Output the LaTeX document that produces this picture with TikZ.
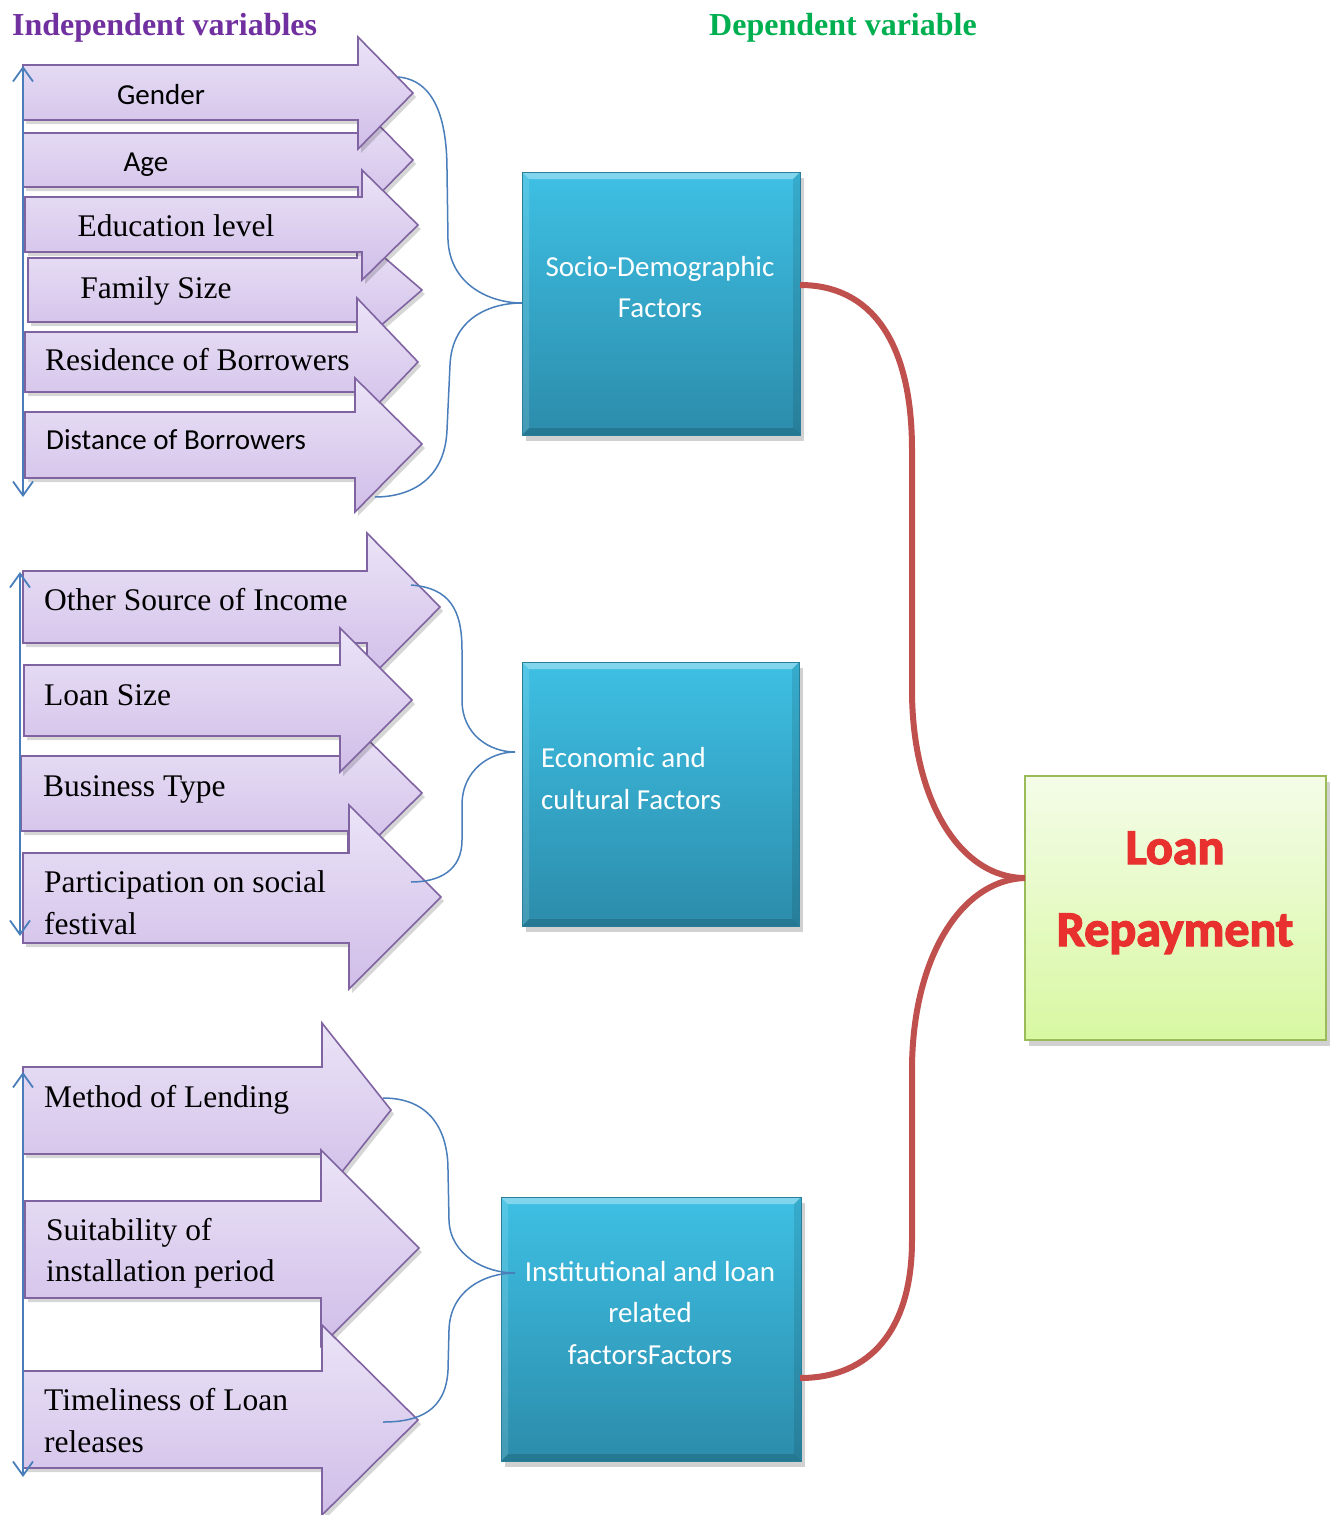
\documentclass[tikz,border=0pt]{standalone}
\usepackage{fontspec}
\setmainfont{Liberation Serif}
\newfontfamily\calib{Carlito}
\usetikzlibrary{arrows.meta,fit}
\definecolor{arrtop}{HTML}{EBE4F7}
\definecolor{arrbot}{HTML}{D0BDE8}
\definecolor{arrline}{HTML}{8064A2}
\definecolor{blueline}{HTML}{4A7EBB}
\definecolor{boxtop}{HTML}{3EC0E4}
\definecolor{boxbot}{HTML}{2C8CAB}
\definecolor{boxline}{HTML}{2A7E9A}
\definecolor{redline}{HTML}{C0504D}
\definecolor{grtop}{HTML}{F4FCE8}
\definecolor{grbot}{HTML}{D8F8A2}
\definecolor{grline}{HTML}{9BBB59}
\definecolor{ttlpurple}{HTML}{7030A0}
\definecolor{ttlgreen}{HTML}{00B050}
\definecolor{loanred}{HTML}{E8302F}
\tikzset{
  fatarr/.style={draw=arrline, line width=1.6pt, top color=arrtop, bottom color=arrbot, line join=miter},
  shad/.style={fill=black, opacity=0.16},
  sertext/.style={font=\fontsize{31.5}{38}\selectfont, anchor=base west, inner sep=0pt},
  santext/.style={font=\calib\fontsize{29}{35}\selectfont, anchor=base, inner sep=0pt},
  boxtext/.style={font=\calib\fontsize{29}{35}\selectfont, text=white, inner sep=0pt},
  vline/.style={draw=blueline, line width=1.8pt, {Straight Barb[length=14pt,width=20pt]}-{Straight Barb[length=14pt,width=20pt]}},
  bracecurve/.style={draw=blueline, line width=1.5pt},
  redcurve/.style={draw=redline, line width=6pt},
  titletext/.style={font=\bfseries\fontsize{32}{38}\selectfont, anchor=base west, inner sep=0pt},
  loanfont/.style={font=\calib\bfseries\fontsize{50}{56}\selectfont, anchor=base, inner sep=0pt, text=loanred},
}
% left, top, bottom, neck, headtop, tipx, tipy, headbottom
\newcommand\fatarrow[8]{%
  \begin{scope}[shift={(3,4)}]
    \fill[shad] (#1,#2) -- (#4,#2) -- (#4,#5) -- (#6,#7) -- (#4,#8) -- (#4,#3) -- (#1,#3) -- cycle;
  \end{scope}
  \path[fatarr] (#1,#2) -- (#4,#2) -- (#4,#5) -- (#6,#7) -- (#4,#8) -- (#4,#3) -- (#1,#3) -- cycle;}
% name, x1, y1, x2, y2
\newcommand\bevelbox[5]{%
  \fill[black, opacity=0.18] (#2+4,#3+6) rectangle (#4+4,#5+6);
  \node[fit={(#2,#3) (#4,#5)}, inner sep=0pt, top color=boxtop, bottom color=boxbot, draw=boxline, line width=1pt] (#1) {};
  \fill[white, opacity=0.35] (#2,#3) -- (#4,#3) -- (#4-7,#3+7) -- (#2+7,#3+7) -- cycle;
  \fill[white, opacity=0.12] (#2,#3) -- (#2+7,#3+7) -- (#2+7,#5-7) -- (#2,#5) -- cycle;
  \fill[black, opacity=0.10] (#4,#3) -- (#4-7,#3+7) -- (#4-7,#5-7) -- (#4,#5) -- cycle;
  \fill[black, opacity=0.14] (#2,#5) -- (#4,#5) -- (#4-7,#5-7) -- (#2+7,#5-7) -- cycle;
  \draw[boxline, line width=1pt] (#2,#3) rectangle (#4,#5);}
\newcommand\heavytext[1]{\special{pdf:literal direct 2 Tr 1.4 w 0.91 0.19 0.18 RG}#1\special{pdf:literal direct 0 Tr}}
\begin{document}
\begin{tikzpicture}[x=1pt,y=-1pt]
\useasboundingbox[fill=white] (0,0) rectangle (1333,1515);

% titles
\node[titletext, text=ttlpurple] (indep) at (12,35.5) {Independent variables};
\node[titletext, text=ttlgreen] (dep) at (709,35.5) {Dependent variable};

% group 1 arrows
\fatarrow{23}{133}{187}{358}{104}{413}{160}{216}
\fatarrow{28}{258}{322}{357}{234}{422}{290}{346}
\fatarrow{23}{65}{120}{358}{37}{413}{93}{149}
\fatarrow{25}{197}{252}{362}{170}{418}{225}{280}
\fatarrow{25}{332}{392}{357}{298}{418}{362}{426}
\fatarrow{25}{412}{478}{355}{378}{422}{444}{512}
\node[santext] (gender) at (161,104) {Gender};
\node[santext] (age) at (146,171) {Age};
\node[sertext, anchor=base] (edu) at (176,236.5) {Education level};
\node[sertext, anchor=base] (fam) at (156,298.5) {Family Size};
\node[sertext] (res) at (45,370.5) {Residence of Borrowers};
\node[santext, anchor=base west] (dist) at (46,449) {Distance of Borrowers};

% group 2 arrows
\fatarrow{21}{756}{831}{348}{720}{422}{793}{866}
\fatarrow{23}{571}{643}{367}{533}{440}{607}{681}
\fatarrow{24}{665}{736}{340}{628}{412}{700}{772}
\fatarrow{23}{853}{943}{349}{805}{441}{897}{989}
\node[sertext] (other) at (44,610) {Other Source of Income};
\node[sertext] (loansize) at (44,705.5) {Loan Size};
\node[sertext] (btype) at (43,796.5) {Business Type};
\node[sertext] (part1) at (44,892.5) {Participation on social};
\node[sertext] (part2) at (44,934) {festival};

% group 3 arrows
\fatarrow{23}{1067}{1154}{322}{1023}{391}{1110}{1197}
\fatarrow{25}{1201}{1298}{321}{1150}{419}{1248}{1346}
\fatarrow{23}{1371}{1468}{322}{1325}{418}{1420}{1515}
\node[sertext] (method) at (44,1107.5) {Method of Lending};
\node[sertext] (suit1) at (46,1240) {Suitability of};
\node[sertext] (suit2) at (46,1281.5) {installation period};
\node[sertext] (time1) at (44,1410.5) {Timeliness of Loan};
\node[sertext] (time2) at (44,1452) {releases};

% left vertical double arrows
\coordinate (v1t) at (23,66); \coordinate (v1b) at (23,497);
\coordinate (v2t) at (20,572); \coordinate (v2b) at (20,936);
\coordinate (v3t) at (23,1072); \coordinate (v3b) at (23,1477);
\draw[vline] (v1t) -- (v1b);
\draw[vline] (v2t) -- (v2b);
\draw[vline] (v3t) -- (v3b);

% boxes
\bevelbox{socio}{522}{172}{800}{435}
\bevelbox{econ}{522}{662}{799}{926}
\bevelbox{inst}{501}{1197}{801}{1461}
\node[boxtext, anchor=base] (socio1) at (660,276) {Socio-Demographic};
\node[boxtext, anchor=base] (socio2) at (660,317) {Factors};
\node[boxtext, anchor=base west] (econ1) at (541,767) {Economic and};
\node[boxtext, anchor=base west] (econ2) at (541,809) {cultural Factors};
\node[boxtext, anchor=base] (inst1) at (650,1281) {Institutional and loan};
\node[boxtext, anchor=base] (inst2) at (650,1322) {related};
\node[boxtext, anchor=base] (inst3) at (650,1364) {factorsFactors};

% green box
\fill[black, opacity=0.18] (1029,782) rectangle (1330,1046);
\node[fit={(1025,776) (1326,1040)}, inner sep=0pt, top color=grtop, bottom color=grbot, draw=grline, line width=2pt] (loanbox) {};
\node[loanfont] (loan1) at (1175,864) {\heavytext{Loan}};
\node[loanfont] (loan2) at (1175,946) {\heavytext{Repayment}};

% brace curves
\coordinate (b1a) at (398,77); \coordinate (b1m) at (522,303); \coordinate (b1b) at (375,497);
\draw[bracecurve] (b1a) .. controls (435,80) and (447,120) .. (447,170) -- (448,240)
  .. controls (450,285) and (490,303) .. (b1m)
  .. controls (490,303) and (452,318) .. (450,365) -- (447,430)
  .. controls (445,480) and (410,497) .. (b1b);
\coordinate (b2a) at (411,585); \coordinate (b2m) at (515,752); \coordinate (b2b) at (411,882);
\draw[bracecurve] (b2a) .. controls (450,588) and (462,610) .. (462,650) -- (462,700)
  .. controls (462,735) and (490,752) .. (b2m)
  .. controls (490,752) and (462,770) .. (462,805) -- (462,840)
  .. controls (462,870) and (440,882) .. (b2b);
\coordinate (b3a) at (383,1098); \coordinate (b3m) at (515,1273); \coordinate (b3b) at (383,1422);
\draw[bracecurve] (b3a) .. controls (430,1098) and (448,1130) .. (448,1170) -- (449,1220)
  .. controls (450,1255) and (485,1273) .. (b3m)
  .. controls (485,1273) and (450,1290) .. (449,1330) -- (448,1370)
  .. controls (446,1410) and (420,1422) .. (b3b);

% red connectors
\coordinate (r1) at (800,285); \coordinate (rm) at (1025,878); \coordinate (r2) at (800,1378);
\draw[redcurve] (r1) .. controls (870,285) and (912,340) .. (912,450) -- (912,690)
  .. controls (912,800) and (960,878) .. (rm);
\draw[redcurve] (rm) .. controls (960,880) and (912,960) .. (912,1070) -- (912,1240)
  .. controls (912,1330) and (870,1378) .. (r2);
\end{tikzpicture}
\end{document}
